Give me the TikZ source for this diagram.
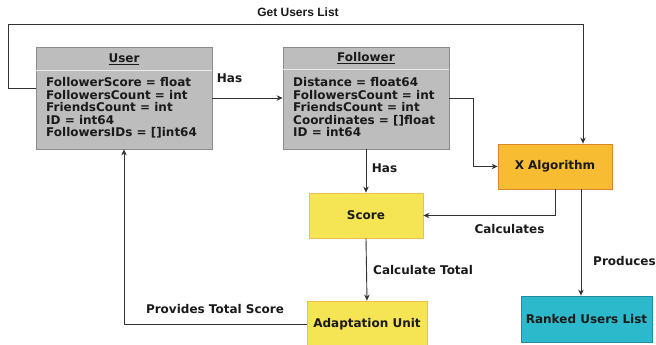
\documentclass[tikz,border=0pt]{standalone}
\usepackage{fontspec}
\setmainfont{DejaVu Sans}
\newfontfamily\arialfont{Liberation Sans}
\usetikzlibrary{arrows.meta}
\definecolor{umlfill}{HTML}{BDBDBD}
\definecolor{umlborder}{HTML}{8C8C8C}
\definecolor{xfill}{HTML}{F8BC33}
\definecolor{xborder}{HTML}{D9892A}
\definecolor{yfill}{HTML}{F5E454}
\definecolor{yborder}{HTML}{EDC048}
\definecolor{cfill}{HTML}{2DB9CC}
\definecolor{cborder}{HTML}{1E8E9E}
\definecolor{linec}{HTML}{333333}
\definecolor{txt}{HTML}{1A1A1A}
\tikzset{
  box/.style={draw, line width=0.8pt, inner sep=0pt, align=center, text=txt},
  umlbox/.style={box, draw=umlborder, fill=umlfill},
  xbox/.style={box, draw=xborder, fill=xfill},
  ybox/.style={box, draw=yborder, fill=yfill},
  cbox/.style={box, draw=cborder, fill=cfill},
  hdr/.style={inner sep=0pt, text=txt},
  attr/.style={inner sep=0pt, align=left, anchor=north west, text=txt},
  divider/.style={draw=white!92!black, line width=0.8pt},
  arr/.style={draw=linec, line width=0.9pt, -{Stealth[length=6pt,width=5.5pt]}},
  lbl/.style={inner sep=0pt, text=txt},
}
\begin{document}
\begin{tikzpicture}[x=1pt,y=-1pt,font=\bfseries\fontsize{12}{12.5}\selectfont]
\useasboundingbox (0,0) rectangle (656,345);
\fill[white] (0,0) rectangle (656,345);

% UML boxes
\node[umlbox, minimum width=176pt, minimum height=102pt] (user) at (124,98) {};
\node[hdr] (userhead) at (124,59) {\underline{User}};
\draw[divider] ([xshift=0.5pt]user.west |- 0,70) -- ([xshift=-0.5pt]user.east |- 0,70);
\node[attr] (userattr) at (46,77.5) {FollowerScore = float\\FollowersCount = int\\FriendsCount = int\\ID = int64\\FollowersIDs = []int64};

\node[umlbox, minimum width=166pt, minimum height=102pt] (follower) at (366,98) {};
\node[hdr] (followerhead) at (366,58.5) {\underline{Follower}};
\draw[divider] ([xshift=0.5pt]follower.west |- 0,69.5) -- ([xshift=-0.5pt]follower.east |- 0,69.5);
\node[attr] (followerattr) at (293,77.5) {Distance = float64\\FollowersCount = int\\FriendsCount = int\\Coordinates = []float\\ID = int64};

% other boxes
\node[xbox, minimum width=114pt, minimum height=45pt] (xalg) at (555,166.5) {X Algorithm};
\node[ybox, minimum width=114pt, minimum height=45pt] (score) at (366,215.5) {Score};
\node[ybox, minimum width=120pt, minimum height=46pt] (adapt) at (367,324) {Adaptation Unit};
\node[cbox, minimum width=131pt, minimum height=46pt] (ranked) at (586.5,319) {Ranked Users List};

% connectors
\coordinate (ga1) at (8,88);
\coordinate (ga2) at (8,24);
\coordinate (ga3) at (583,24);
\draw[arr] (user.west |- ga1) -- (ga1) -- (ga2) -- (ga3) -- (ga3 |- xalg.north);
\draw[arr] (user.east) -- (follower.west);
\coordinate (fx) at (473,98);
\draw[arr] (follower.east |- fx) -- (fx) |- (xalg.west);
\draw[arr] (follower.south) -- (score.north);
\draw[arr] (xalg.south) |- (score.east);
\coordinate (px) at (581,189);
\draw[arr] (px) -- (px |- ranked.north);
\draw[arr] (score.south) -- (adapt.north);
\draw[arr] (adapt.west) -| (user.south);

% labels
\node[lbl, font=\arialfont\bfseries\fontsize{12}{13}\selectfont] (lget) at (298,12) {Get Users List};
\node[lbl] (lhas1) at (229.5,78) {Has};
\node[lbl] (lhas2) at (384.5,168) {Has};
\node[lbl] (lcalc) at (509.5,229) {Calculates};
\node[lbl, anchor=west] (lprod) at (593,261) {Produces};
\node[lbl, anchor=west] (ltotal) at (373,270) {Calculate Total};
\node[lbl] (lprov) at (215,309) {Provides Total Score};
\end{tikzpicture}
\end{document}
